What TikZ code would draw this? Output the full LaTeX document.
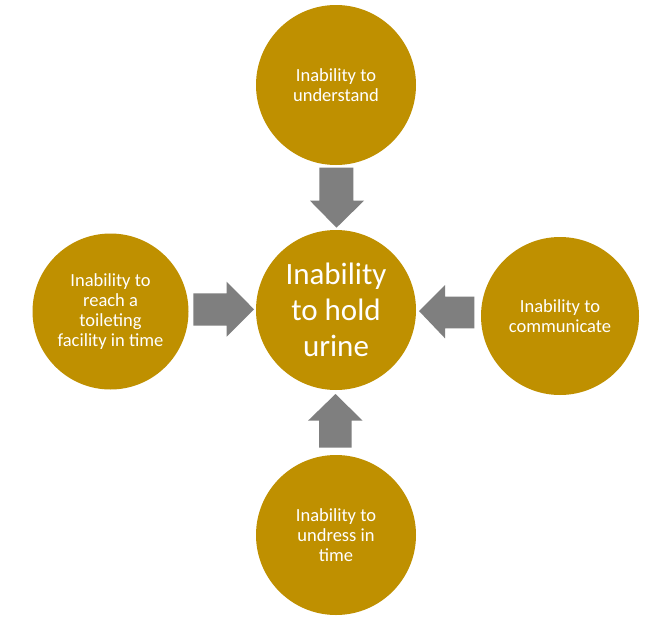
\documentclass[tikz,border=0pt]{standalone}
\usepackage{fontspec}
\setmainfont{Carlito}
\definecolor{gold}{HTML}{BF9000}
\definecolor{arrowgrey}{HTML}{7F7F7F}
\begin{document}
\begin{tikzpicture}[x=1pt,y=-1pt,
  bubble/.style={circle, fill=gold, inner sep=0pt, minimum size=160pt, text=white, align=center,
    font=\fontsize{18.5}{20}\selectfont},
  hub/.style={bubble, font=\fontsize{31}{36}\selectfont},
  blockarrow/.style={fill=arrowgrey}]
\useasboundingbox (0,0) rectangle (659,627);
\fill[white] (0,0) rectangle (659,627);
\node[hub] (c) at (336,310) {Inability\\to hold\\urine};
\node[bubble] (t) at (336,85) {Inability to\\understand};
\node[bubble, minimum size=156pt] (l) at (110.5,311.5) {Inability to\\reach a\\toileting\\facility in time};
\node[bubble, minimum size=158pt] (r) at (560,316) {Inability to\\communicate};
\node[bubble] (b) at (336,535) {Inability to\\undress in\\time};
% top arrow (down)
\fill[blockarrow] (319.3,167.7) -- (353.3,167.7) -- (353.3,200.7) -- (364,200.7) -- (336.5,227.7)
  -- (310,200.7) -- (319.3,200.7) -- cycle;
% bottom arrow (up)
\fill[blockarrow] (319,447.7) -- (351.7,447.7) -- (351.7,420.7) -- (362.7,420.7) -- (335.5,394)
  -- (308,420.7) -- (319,420.7) -- cycle;
% left arrow (right)
\fill[blockarrow] (193.3,293.3) -- (226.7,293.3) -- (226.7,281.7) -- (254,309.3) -- (226.7,336.7)
  -- (226.7,325.7) -- (193.3,325.7) -- cycle;
% right arrow (left)
\fill[blockarrow] (474.3,296.7) -- (445,296.7) -- (445,285) -- (419,311) -- (445,338.3)
  -- (445,328.3) -- (474.3,328.3) -- cycle;
\end{tikzpicture}
\end{document}
